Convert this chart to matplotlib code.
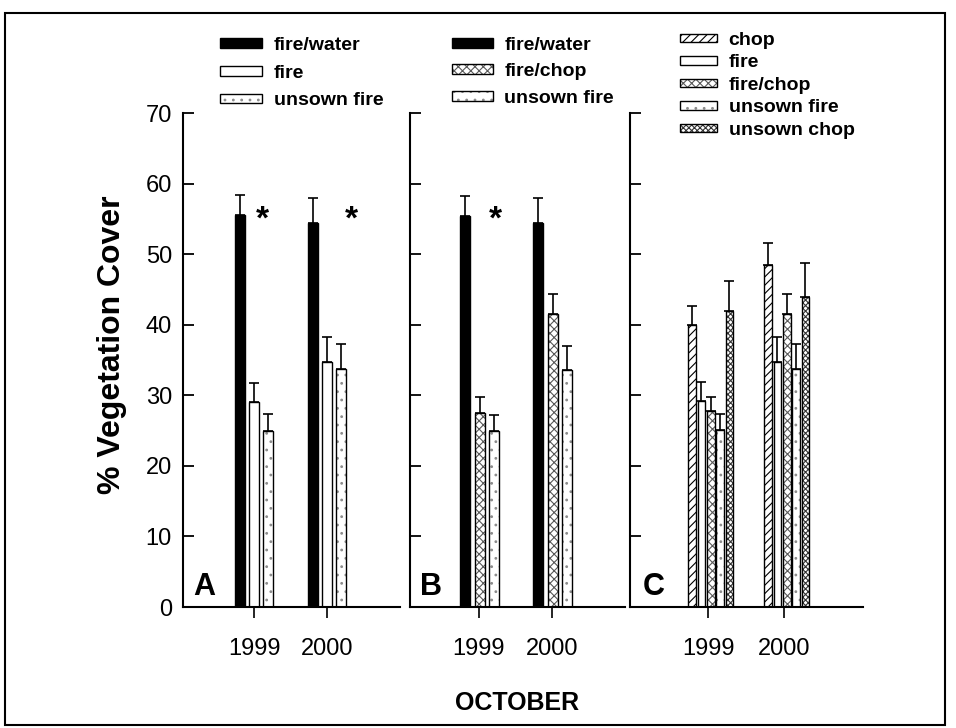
import matplotlib
matplotlib.use('Agg')
import matplotlib.pyplot as plt
from matplotlib.patches import Rectangle
import numpy as np

plt.rcParams['font.family'] = ['Liberation Sans', 'DejaVu Sans']
plt.rcParams['hatch.linewidth'] = 0.8

# ---------------- data ----------------
years = ['1999', '2000']

a_series = ['fire/water', 'fire', 'unsown fire']
a_means = [[55.5, 54.4], [29.1, 34.7], [24.9, 33.7]]
a_errs = [[2.9, 3.6], [2.7, 3.5], [2.4, 3.5]]

b_series = ['fire/water', 'fire/chop', 'unsown fire']
b_means = [[55.4, 54.4], [27.5, 41.5], [24.9, 33.6]]
b_errs = [[2.9, 3.5], [2.2, 2.8], [2.3, 3.4]]

c_series = ['chop', 'fire', 'fire/chop', 'unsown fire', 'unsown chop']
c_means = [[39.9, 48.4], [29.2, 34.7], [27.8, 41.5], [25.1, 33.7], [41.9, 43.9]]
c_errs = [[2.7, 3.2], [2.7, 3.5], [2.0, 2.8], [2.3, 3.5], [4.3, 4.8]]

# significance markers: x position in year units (0 = 1999, 1 = 2000)
a_stars_x = [0.11, 1.34]
b_stars_x = [0.23]
star_y = 53.6

panel_letters = ['A', 'B', 'C']
yticks = [0, 10, 20, 30, 40, 50, 60, 70]

# ---------------- styles ----------------
styles = {
    'fire/water': dict(face='black', hatch=None, hcolor='black'),
    'fire': dict(face='white', hatch=None, hcolor='black'),
    'unsown fire': dict(face='white', hatch='..', hcolor='0.55'),
    'fire/chop': dict(face='white', hatch='xxxx', hcolor='0.35'),
    'chop': dict(face='white', hatch='////', hcolor='black'),
    'unsown chop': dict(face='white', hatch='xxxxxx', hcolor='0.2'),
}

fig = plt.figure(figsize=(9.56, 7.28), dpi=100)

ax_bottom = 1 - 607 / 728
ax_height = (607 - 113) / 728
axA = fig.add_axes([183 / 956, ax_bottom, 217 / 956, ax_height])
axB = fig.add_axes([410 / 956, ax_bottom, 215 / 956, ax_height])
axC = fig.add_axes([630 / 956, ax_bottom, 233 / 956, ax_height])

xlims = [(-0.973, 2.0), (-0.945, 2.0), (-1.03, 2.04)]
x = np.arange(len(years))


def draw_panel(ax, series, means, errs, offsets, width):
    handles = []
    for name, m, e, off in zip(series, means, errs, offsets):
        st = styles[name]
        pos = x + off
        if st['hatch'] is None:
            b = ax.bar(pos, m, width=width, color=st['face'], edgecolor='black',
                       linewidth=1.0, zorder=2)
            handles.append(b)
        else:
            b1 = ax.bar(pos, m, width=width, color=st['face'], edgecolor=st['hcolor'],
                        hatch=st['hatch'], linewidth=0, zorder=2)
            b2 = ax.bar(pos, m, width=width, fill=False, edgecolor='black',
                        linewidth=1.0, zorder=3)
            handles.append((b1, b2))
        ax.errorbar(pos, m, yerr=[np.zeros(len(e)), e], fmt='none', ecolor='black',
                    elinewidth=1.2, capsize=3.5, capthick=1.2, zorder=4)
    return handles


hA = draw_panel(axA, a_series, a_means, a_errs, [-0.195, 0.0, 0.195], 0.14)
hB = draw_panel(axB, b_series, b_means, b_errs, [-0.19, 0.01, 0.205], 0.14)
pitch = 0.123
hC = draw_panel(axC, c_series, c_means, c_errs,
                [0.035 + k * pitch for k in range(-2, 3)], 0.10)

for i, ax in enumerate([axA, axB, axC]):
    ax.set_xlim(*xlims[i])
    ax.set_ylim(0, 70)
    ax.spines['top'].set_visible(False)
    ax.spines['right'].set_visible(False)
    ax.spines['left'].set_linewidth(1.5)
    ax.spines['bottom'].set_linewidth(1.5)
    ax.set_yticks(yticks)
    ax.tick_params(axis='y', direction='in', length=8, width=1.3,
                   labelsize=17, labelleft=(i == 0), pad=8)
    ax.set_xticks(x)
    ax.set_xticklabels(years)
    ax.tick_params(axis='x', direction='out', length=8, width=1.2,
                   labelsize=17, pad=14)
    ax.text(0.1, 0.04, panel_letters[i], transform=ax.transAxes,
            fontsize=22, fontweight='bold', ha='center', va='center')

for sx in a_stars_x:
    axA.text(sx, star_y, '*', fontsize=24, fontweight='bold', ha='center', va='baseline')
for sx in b_stars_x:
    axB.text(sx, star_y, '*', fontsize=24, fontweight='bold', ha='center', va='baseline')

leg_kw = dict(frameon=False, loc='upper left', borderpad=0, borderaxespad=0,
              prop=dict(size=14, weight='bold'), handletextpad=0.6)
fig.legend(hA, a_series, bbox_to_anchor=(220 / 956, 1 - 37 / 728),
           handlelength=2.16, handleheight=0.4, labelspacing=0.55, **leg_kw)
fig.legend(hB, b_series, bbox_to_anchor=(452 / 956, 1 - 37 / 728),
           handlelength=2.1, handleheight=0.4, labelspacing=0.48, **leg_kw)
fig.legend(hC, c_series, bbox_to_anchor=(680 / 956, 1 - 32 / 728),
           handlelength=1.9, handleheight=0.3, labelspacing=0.28, **leg_kw)

fig.text(112 / 956, 1 - 345 / 728, '% Vegetation Cover', rotation=90,
         fontsize=23, fontweight='bold', ha='center', va='center')
fig.text(517 / 956, 1 - 703 / 728, 'OCTOBER', fontsize=18, fontweight='bold',
         ha='center', va='center')

fig.add_artist(Rectangle((5 / 956, 3 / 728), 940 / 956, 712 / 728,
                         transform=fig.transFigure, fill=False, lw=1.5,
                         edgecolor='black'))

fig.savefig('out.png', dpi=100)
